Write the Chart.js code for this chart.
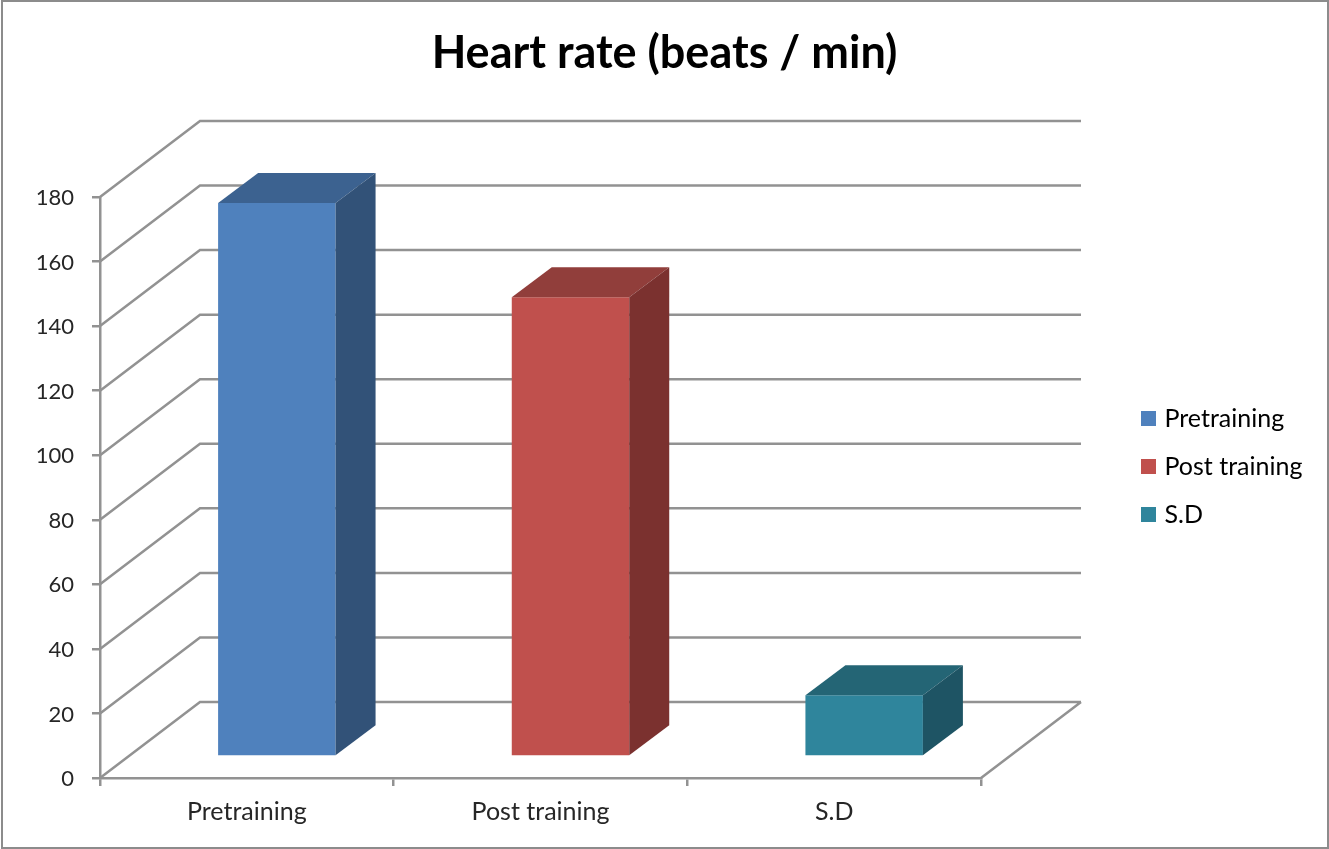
<!DOCTYPE html>
<html>
<head>
<meta charset="utf-8">
<title>Heart rate</title>
<script src="https://cdn.jsdelivr.net/npm/chart.js@4"></script>
<style>
  html, body { margin: 0; padding: 0; background: #fff; }
  canvas { display: block; }
</style>
</head>
<body>
<canvas id="heartChart" width="1329" height="849"></canvas>
<script>
const categories = ['Pretraining', 'Post training', 'S.D'];
const heartRate = [171.5, 142.3, 19];
const yMax = 180;
const yStep = 20;

const frontColors = ['#4f81bd', '#c0504d', '#2f859c'];
const topColors = ['#3c6290', '#913e3b', '#246575'];
const sideColors = ['#325278', '#7b312f', '#1e5464'];

const lineGrey = '#929292';
const labelColor = '#262626';
const fontName = 'Lato, sans-serif';

// how far the back wall sits behind the axes
const wallX = 100, wallY = -76;
// where the bars stand on the floor, and how deep they are
const barX = 30, barY = -21.5;
const depthX = 40, depthY = -30;

const fake3d = {
  id: 'fake3d',
  beforeDraw(chart) {
    const c = chart.ctx;
    c.save();
    c.fillStyle = '#fff';
    c.fillRect(0, 0, chart.width, chart.height);
    c.strokeStyle = '#8c8c8c';
    c.lineWidth = 2;
    c.strokeRect(2, 1, 1326, 847);
    c.restore();
  },
  afterLayout(chart) {
    // title centres on the whole picture, legend sits right of the wall
    chart.titleBlock.left = 0;
    chart.titleBlock.right = chart.width;
    const lg = chart.legend;
    const w = lg.width;
    lg.left = 1122;
    lg.top = 383;
    lg.right = lg.left + w + 30;
    lg.bottom = lg.top + 170;
  },
  beforeDatasetsDraw(chart) {
    const c = chart.ctx, y = chart.scales.y, a = chart.chartArea;
    c.save();
    c.strokeStyle = lineGrey;
    c.lineWidth = 2.5;
    c.beginPath();
    y.ticks.forEach(t => {
      const py = y.getPixelForValue(t.value);
      c.moveTo(a.left, py);
      c.lineTo(a.left + wallX, py + wallY);
      c.lineTo(a.right + wallX, py + wallY);
    });
    const py0 = y.getPixelForValue(0);
    c.moveTo(a.right + wallX, py0 + wallY);
    c.lineTo(a.right, py0);
    c.stroke();
    c.restore();
    c.save();
    c.translate(barX, barY);
  },
  afterDatasetsDraw(chart) {
    const c = chart.ctx;
    chart.getDatasetMeta(0).data.forEach((bar, i) => {
      const l = bar.x - bar.width / 2, r = bar.x + bar.width / 2;
      c.fillStyle = topColors[i];
      c.beginPath();
      c.moveTo(l, bar.y);
      c.lineTo(l + depthX, bar.y + depthY);
      c.lineTo(r + depthX, bar.y + depthY);
      c.lineTo(r, bar.y);
      c.closePath();
      c.fill();
      c.fillStyle = sideColors[i];
      c.beginPath();
      c.moveTo(r, bar.y);
      c.lineTo(r + depthX, bar.y + depthY);
      c.lineTo(r + depthX, bar.base + depthY);
      c.lineTo(r, bar.base);
      c.closePath();
      c.fill();
    });
    c.restore();
  }
};

new Chart(document.getElementById('heartChart').getContext('2d'), {
  type: 'bar',
  data: {
    labels: categories,
    datasets: [{
      label: 'Heart rate',
      data: heartRate,
      backgroundColor: frontColors,
      borderWidth: 0,
      barPercentage: 0.4,
      categoryPercentage: 1,
      clip: false
    }]
  },
  plugins: [fake3d],
  options: {
    responsive: false,
    animation: false,
    layout: { padding: { left: 0, right: 348, top: 0, bottom: 0 } },
    plugins: {
      tooltip: { enabled: false },
      title: {
        display: true,
        text: 'Heart rate (beats / min)',
        color: '#000',
        font: { family: fontName, size: 45, weight: 'bold' },
        padding: { top: 26, bottom: 117 }
      },
      legend: {
        position: 'chartArea',
        align: 'start',
        labels: {
          color: labelColor,
          font: { family: fontName, size: 25 },
          usePointStyle: true,
          boxWidth: 7,
          boxHeight: 15,
          padding: 23,
          generateLabels: () => categories.map((name, i) => ({
            text: name,
            fillStyle: frontColors[i],
            strokeStyle: frontColors[i],
            lineWidth: 0,
            pointStyle: 'rect',
            index: i
          }))
        }
      }
    },
    scales: {
      x: {
        afterFit: s => { s.height = 71; },
        grid: { offset: true, drawOnChartArea: false, color: lineGrey, lineWidth: 2.5, tickLength: 8 },
        border: { color: lineGrey, width: 2.5 },
        ticks: { color: labelColor, font: { family: fontName, size: 25 }, padding: 11, maxRotation: 0 }
      },
      y: {
        min: 0,
        max: yMax,
        afterFit: s => { s.width = 100; },
        grid: { drawOnChartArea: false, color: lineGrey, lineWidth: 2.5, tickLength: 8 },
        border: { color: lineGrey, width: 2.5 },
        ticks: { stepSize: yStep, color: labelColor, font: { family: fontName, size: 22 }, padding: 18, labelOffset: 1 }
      }
    }
  }
});
</script>
</body>
</html>
